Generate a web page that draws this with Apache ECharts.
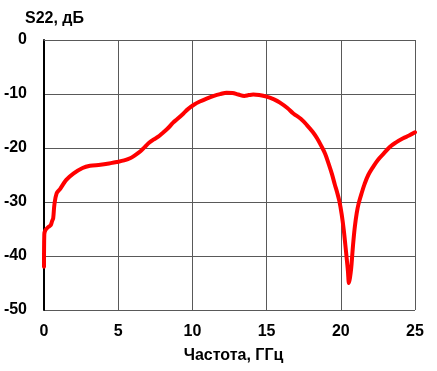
<!DOCTYPE html>
<html>
<head>
<meta charset="utf-8">
<script src="https://cdn.jsdelivr.net/npm/echarts@6/dist/echarts.min.js"></script>
<style>
  html, body { margin: 0; padding: 0; background: #fff; }
  #chart { width: 437px; height: 371px; }
</style>
</head>
<body>
<div id="chart"></div>
<script>
// частота, ГГц
var freq = [0, 0.02, 0.1, 0.3, 0.45, 0.55, 0.62, 0.7, 0.85, 1.08, 1.5, 2.0, 2.6, 3.1, 3.8, 4.5, 4.9, 5.4, 5.8, 6.1,
  6.5, 6.8, 7.1, 7.4, 7.7, 8.0, 8.4, 8.7, 9.0, 9.4, 9.7, 10.1, 10.5, 11.0, 11.5, 11.9, 12.3, 12.7, 13.1, 13.5,
  13.8, 14.1, 14.5, 15.0, 15.5, 15.9, 16.4, 16.8, 17.3, 17.7, 18.1, 18.4, 18.7, 18.95, 19.2, 19.4, 19.6, 19.75,
  19.9, 20.06, 20.2, 20.3, 20.4, 20.48, 20.55, 20.62, 20.7, 20.78, 20.85, 20.95, 21.07, 21.2, 21.4, 21.6, 21.85,
  22.2, 22.5, 22.9, 23.3, 23.7, 24.2, 24.6, 25]
// S22, дБ
var s22 = [-42, -36, -35.2, -34.6, -34.3, -33.5, -33.0, -30.5, -28.4, -27.6, -25.9, -24.7, -23.7, -23.3, -23.1, -22.8, -22.6, -22.3, -21.9, -21.4,
  -20.6, -19.8, -19.0, -18.4, -17.9, -17.2, -16.2, -15.3, -14.6, -13.6, -12.8, -12.0, -11.4, -10.8, -10.3, -10.0, -9.75, -9.8, -10.1, -10.35,
  -10.2, -10.1, -10.2, -10.5, -11.0, -11.6, -12.6, -13.6, -14.6, -15.7, -17.0, -18.2, -19.7, -21.1, -23.1, -24.8, -26.8, -28.2,
  -29.8, -32.3, -35.2, -37.8, -40.5, -42.8, -45, -44, -42.3, -39.5, -37.2, -34.5, -32.1, -30.3, -28.4, -26.7, -25.0,
  -23.4, -22.2, -21.0, -19.8, -19.0, -18.2, -17.7, -17.1]

var font = "'Liberation Sans', Arial, sans-serif"
var gridColor = '#595959'

var chart = echarts.init(document.getElementById('chart'))
chart.setOption({
  animation: false,
  title: {
    text: 'S22, дБ',
    left: 20,
    top: 6,
    textStyle: { fontFamily: font, fontSize: 16, fontWeight: 'bold', color: '#000' }
  },
  grid: { left: 44, right: 22, top: 40, bottom: 61 },
  xAxis: {
    type: 'value',
    min: 0,
    max: 25,
    interval: 5,
    name: 'Частота, ГГц',
    nameLocation: 'middle',
    nameGap: 38,
    nameTextStyle: { fontFamily: font, fontSize: 16, fontWeight: 'bold', color: '#000', padding: [0, 0, 0, 8] },
    axisLine: { lineStyle: { color: gridColor, width: 1 } },
    axisTick: { show: false },
    axisLabel: { fontFamily: font, fontSize: 16, fontWeight: 'bold', color: '#000', margin: 14 },
    splitLine: { show: true, lineStyle: { color: gridColor, width: 1 } }
  },
  yAxis: {
    type: 'value',
    min: -50,
    max: 0,
    interval: 10,
    axisLine: { show: true, onZero: false, lineStyle: { color: '#000', width: 2 } },
    axisTick: { show: false },
    axisLabel: { fontFamily: font, fontSize: 16, fontWeight: 'bold', color: '#000', margin: 17 },
    splitLine: { show: true, lineStyle: { color: [gridColor, gridColor, gridColor, gridColor, gridColor, '#b0b0b0'], width: 1 } }
  },
  series: [
    {
      type: 'line',
      data: freq.map(function (f, i) { return [f, s22[i]] }),
      showSymbol: false,
      smooth: 0.35,
      lineStyle: { color: '#ff0000', width: 4, join: 'round', cap: 'round' },
      itemStyle: { color: '#ff0000' }
    }
  ]
})
</script>
</body>
</html>
